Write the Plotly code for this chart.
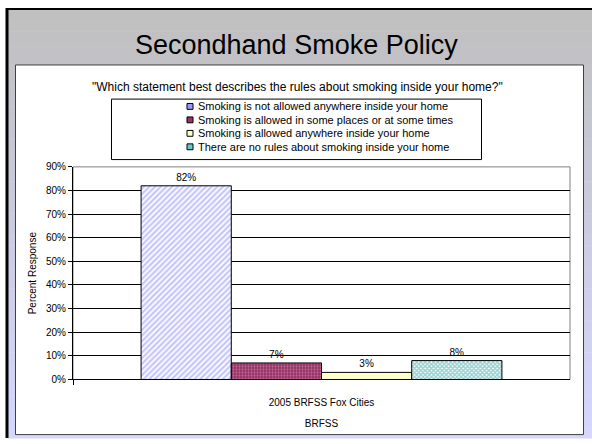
import plotly.graph_objects as go

# ------------------------
# Data
# ------------------------
GROUP = ["2005 BRFSS Fox Cities"]
ANSWERS = [
    "Smoking is not allowed anywhere inside your home",
    "Smoking is allowed in some places or at some times",
    "Smoking is allowed anywhere inside your home",
    "There are no rules about smoking inside your home",
]
PERCENTS = [82, 7, 3, 8]
Y_TICKS = [0, 10, 20, 30, 40, 50, 60, 70, 80, 90]

W, H = 592, 444
FONT = "Arial, 'Liberation Sans', sans-serif"

# bar styles: fill, pattern shape / colour, legend swatch colour
STYLES = [
    dict(bg="#FFFFFF", shape="/", fg="#8C8CFF", size=4, solidity=0.55, swatch="#9999FF"),
    dict(bg="#993366", shape=".", fg="#E0B0CC", size=3, solidity=0.3, swatch="#993366"),
    dict(bg="#FFFFCC", shape="", fg="#FFFFCC", size=4, solidity=0.3, swatch="#FFFFCC"),
    dict(bg="#FFFFFF", shape="x", fg="#2EA3A3", size=3, solidity=0.7, swatch="#66CCCC"),
]


def px(x):
    return x / W


def py(y):
    return 1 - y / H


def blend(c0, c1, t):
    a = [int(c0[i:i + 2], 16) for i in (1, 3, 5)]
    b = [int(c1[i:i + 2], 16) for i in (1, 3, 5)]
    return "#" + "".join(f"{round(u + (v - u) * t):02X}" for u, v in zip(a, b))


fig = go.Figure()

for name, val, st in zip(ANSWERS, [[p] for p in PERCENTS], STYLES):
    fig.add_trace(
        go.Bar(
            x=GROUP,
            y=val,
            name=name,
            text=[f"{v}%" for v in val],
            textposition="outside",
            textfont=dict(size=10, color="#000000", family=FONT),
            cliponaxis=False,
            marker=dict(
                color=st["bg"],
                line=dict(color="#000000", width=1),
                pattern=dict(
                    shape=st["shape"],
                    fgcolor=st["fg"],
                    bgcolor=st["bg"],
                    size=st["size"],
                    solidity=st["solidity"],
                ),
            ),
            showlegend=False,
        )
    )

# ------------------------
# Slide background
# ------------------------
shapes = []
bands = 40
for i in range(bands):
    y0 = 5 + i * (H - 5) / bands
    y1 = 5 + (i + 1) * (H - 5) / bands
    shapes.append(dict(
        type="rect", xref="paper", yref="paper", layer="below",
        x0=px(8), x1=px(W), y0=py(y0), y1=py(y1 + 0.5),
        fillcolor=blend("#C0C0C0", "#D6D6FF", i / (bands - 1)),
        line=dict(width=0),
    ))
shapes += [
    dict(type="line", xref="paper", yref="paper", layer="below",
         x0=px(6), x1=px(W), y0=py(4), y1=py(4),
         line=dict(color="#000000", width=2)),
    dict(type="line", xref="paper", yref="paper", layer="below",
         x0=px(7), x1=px(7), y0=py(3), y1=py(H),
         line=dict(color="#000000", width=3)),
    # white chart panel
    dict(type="rect", xref="paper", yref="paper", layer="below",
         x0=px(15.5), x1=px(583.5), y0=py(61.5), y1=py(440.5),
         fillcolor="#FFFFFF", line=dict(color="#404040", width=1)),
    # legend box
    dict(type="rect", xref="paper", yref="paper", layer="below",
         x0=px(111.5), x1=px(481.5), y0=py(96.5), y1=py(158.5),
         fillcolor="#FFFFFF", line=dict(color="#000000", width=1)),
    # plot area frame
    dict(type="rect", xref="x domain", yref="y domain", layer="below",
         x0=0, x1=1, y0=0, y1=1,
         line=dict(color="#808080", width=1)),
]

annotations = [
    dict(text="Secondhand Smoke Policy", x=px(296), y=py(41),
         font=dict(size=27, color="#000000", family=FONT)),
    dict(text='"Which statement best describes the rules about smoking inside your home?"',
         x=px(297), y=py(84), font=dict(size=12, color="#000000", family=FONT)),
]

# legend drawn by hand so rows keep the tight spacing of the original
for i, (name, st) in enumerate(zip(ANSWERS, STYLES)):
    yc = 104 + i * 13.8
    shapes.append(dict(
        type="rect", xref="paper", yref="paper",
        x0=px(187), x1=px(193), y0=py(yc - 3), y1=py(yc + 3),
        fillcolor=st["swatch"], line=dict(color="#000000", width=1),
    ))
    annotations.append(dict(
        text=name, x=px(196), y=py(yc), xanchor="left",
        font=dict(size=11, color="#000000", family=FONT),
    ))

for a in annotations:
    a.update(xref="paper", yref="paper", showarrow=False,
             xanchor=a.get("xanchor", "center"), yanchor="middle")

fig.update_layout(
    width=W,
    height=H,
    margin=dict(l=0, r=0, t=0, b=0),
    paper_bgcolor="#FFFFFF",
    plot_bgcolor="rgba(0,0,0,0)",
    font=dict(family=FONT, color="#000000", size=10),
    barmode="group",
    bargap=0.274,
    bargroupgap=0,
    shapes=shapes,
    annotations=annotations,
    xaxis=dict(
        domain=[px(73), px(570)],
        showline=True,
        linecolor="#000000",
        linewidth=1,
        ticks="outside",
        tickson="boundaries",
        ticklen=5,
        tickcolor="#000000",
        ticklabelstandoff=14,
        tickfont=dict(size=10),
        title=dict(text="BRFSS", font=dict(size=10), standoff=12),
        showgrid=False,
    ),
    yaxis=dict(
        domain=[py(384), py(166)],
        range=[0, 90],
        tickvals=Y_TICKS,
        ticktext=[f"{v}%" for v in Y_TICKS],
        showline=True,
        linecolor="#000000",
        linewidth=1,
        ticks="outside",
        ticklen=4,
        tickcolor="#000000",
        tickfont=dict(size=10),
        showgrid=True,
        gridcolor="#000000",
        gridwidth=1,
        zeroline=False,
        title=dict(text="Percent Response", font=dict(size=10), standoff=7),
    ),
)

# drop the browser's default body margin so the page lines up at 0,0
fig.write_html(
    "out.html",
    config={"displayModeBar": False},
    post_script="document.body.style.margin='0px';",
)
